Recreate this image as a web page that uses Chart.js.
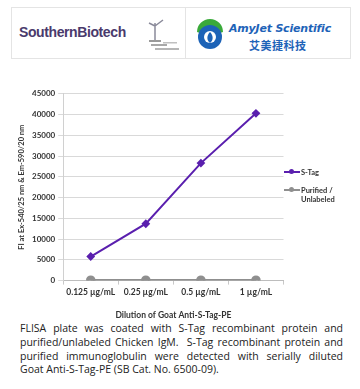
<!DOCTYPE html>
<html>
<head>
<meta charset="utf-8">
<script src="https://cdn.jsdelivr.net/npm/chart.js@4"></script>
<style>
  body { margin: 0; width: 360px; height: 389px; background: #fff; position: relative; overflow: hidden; font-family: Lato, sans-serif; }
  #header { position: absolute; left: 11px; top: 7px; width: 338px; height: 50px; border: 1px solid #e4e4e4; }
  #divider { position: absolute; left: 173px; top: 0; width: 1px; height: 50px; background: #e4e4e4; }
  #sb { position: absolute; left: 7px; top: 16px; font: bold 14px "Liberation Sans", Arial, sans-serif; color: #4a3a6c; letter-spacing: -0.4px; }
  #sbicon { position: absolute; left: 134px; top: 10px; }
  #ajicon { position: absolute; left: 183px; top: 10px; }
  #aj { position: absolute; left: 217px; top: 14px; font: italic bold 11px "DejaVu Sans", sans-serif; color: #1e63b8; letter-spacing: -0.2px; }
  #ajcn { position: absolute; left: 237px; top: 29px; font: bold 11px "Noto Sans CJK SC", sans-serif; color: #1e63b8; letter-spacing: 0.5px; }
  #wrap { position: absolute; left: 0; top: 86px; width: 290px; height: 234px; }
  #legend { position: absolute; left: 284px; top: 168px; font: bold 7.5px Lato, sans-serif; color: #333; }
  .item { display: flex; align-items: flex-start; margin-bottom: 9px; }
  .sw { width: 16px; height: 8px; position: relative; margin-right: 1px; flex: none; }
  .sw i { position: absolute; left: 0; top: 3px; width: 16px; height: 2px; }
  .sw b { position: absolute; left: 5px; top: 1px; width: 5px; height: 5px; border-radius: 50%; }
  #caption { position: absolute; left: 20px; top: 322px; width: 323px; font: 10.5px "Open Sans", sans-serif; line-height: 13.8px; color: #222; }
  #caption span { display: block; text-align: justify; text-align-last: justify; white-space: nowrap; }
  #caption span.last { text-align-last: left; }
</style>
</head>
<body>
<div id="header">
  <div id="sb">SouthernBiotech</div>
  <svg id="sbicon" width="38" height="34">
    <path d="M9 22 L9 5 M9 8 L3 5 M9 8 L17 2" stroke="#8a8a9a" stroke-width="1.5" fill="none"/>
    <rect x="3" y="22" width="12" height="2" fill="#9a9a9a"/>
    <rect x="5" y="26" width="16" height="2" fill="#a8a8a8"/>
    <rect x="9" y="30" width="24" height="2" fill="#b5b5b5"/>
    <rect x="17" y="24" width="14" height="1.5" fill="#c0c0c0"/>
  </svg>
  <div id="divider"></div>
  <svg id="ajicon" width="30" height="32">
    <path d="M2 14 A13 13 0 0 1 28 14 L22 16 A7 7 0 0 0 8 16 Z" fill="#3aaa3a"/>
    <circle cx="15" cy="19" r="12" fill="#1d63b7"/>
    <circle cx="15" cy="19" r="6" fill="#fff"/>
    <path d="M15 14 C11 18 12 23 15 25 C18 23 19 18 15 14 Z" fill="#1d63b7"/>
  </svg>
  <div id="aj">AmyJet Scientific</div>
  <div id="ajcn">艾美捷科技</div>
</div>

<div id="wrap"><canvas id="myChart"></canvas></div>
<div id="legend"></div>

<div id="caption">
  <span>FLISA plate was coated with S-Tag recombinant protein and</span>
  <span>purified/unlabeled Chicken IgM.&nbsp; S-Tag recombinant protein and</span>
  <span>purified immunoglobulin were detected with serially diluted</span>
  <span class="last">Goat Anti-S-Tag-PE (SB Cat. No. 6500-09).</span>
</div>

<script>
const dilutions = ['0.125 µg/mL', '0.25 µg/mL', '0.5 µg/mL', '1 µg/mL'];
const sTag = [5800, 13700, 28300, 40300];
const purified = [100, 100, 100, 100];
const seriesNames = ['S-Tag', 'Purified / Unlabeled'];
const seriesColors = ['#5a1fae', '#8f8f8f'];
const yTicks = [0, 5000, 10000, 15000, 20000, 25000, 30000, 35000, 40000, 45000];

const yFont = { family: 'Lato', size: 8, weight: 'bold' };
const xFont = { family: 'Lato', size: 8.5, weight: 'bold' };

const ctx = document.getElementById('myChart');
const chart = new Chart(ctx, {
    type: 'line',
    data: {
        labels: dilutions,
        datasets: [{
            label: seriesNames[0],
            data: sTag,
            borderColor: seriesColors[0],
            backgroundColor: seriesColors[0],
            borderWidth: 2,
            pointStyle: 'rectRot',
            pointRadius: 3,
            tension: 0
        }, {
            label: seriesNames[1],
            data: purified,
            borderColor: seriesColors[1],
            backgroundColor: seriesColors[1],
            borderWidth: 2.5,
            pointRadius: 3.5,
            tension: 0
        }]
    },
    options: {
        responsive: true,
        maintainAspectRatio: false,
        animation: false,
        layout: { padding: { top: 3, right: 5, left: 17, bottom: 0 } },
        plugins: { legend: { display: false }, tooltip: { enabled: false } },
        scales: {
            x: {
                offset: true,
                grid: { display: true, drawOnChartArea: false, offset: true, tickLength: 4, color: '#c8c8c8' },
                border: { color: '#bdbdbd' },
                ticks: { color: '#333', font: xFont, maxRotation: 0, padding: 3 },
                title: { display: true, text: 'Dilution of Goat Anti-S-Tag-PE', color: '#333', font: xFont, padding: { top: 9, bottom: 0 } }
            },
            y: {
                min: 0,
                max: 45000,
                afterBuildTicks: function(axis) {
                    axis.ticks = yTicks.map(function(v) { return { value: v }; });
                },
                grid: { color: '#d9d9d9', tickLength: 5 },
                border: { color: '#d0d0d0' },
                ticks: {
                    color: '#333', font: yFont, padding: 3,
                    callback: function(v) { return String(v); }
                },
                title: { display: true, text: 'FI at Ex-540/25 nm & Em-590/20 nm', color: '#333', font: { family: 'Lato', size: 7.5, weight: 'bold' }, padding: { top: 0, bottom: 3 } }
            }
        }
    }
});

// legend beside the plot
const legend = document.getElementById('legend');
chart.data.datasets.forEach(function(ds) {
    const item = document.createElement('div');
    item.className = 'item';
    item.innerHTML = '<div class="sw"><i style="background:' + ds.borderColor + '"></i><b style="background:' + ds.borderColor + '"></b></div>' +
        '<div>' + ds.label.replace(' / ', ' /<br>') + '</div>';
    legend.appendChild(item);
});
</script>
</body>
</html>
